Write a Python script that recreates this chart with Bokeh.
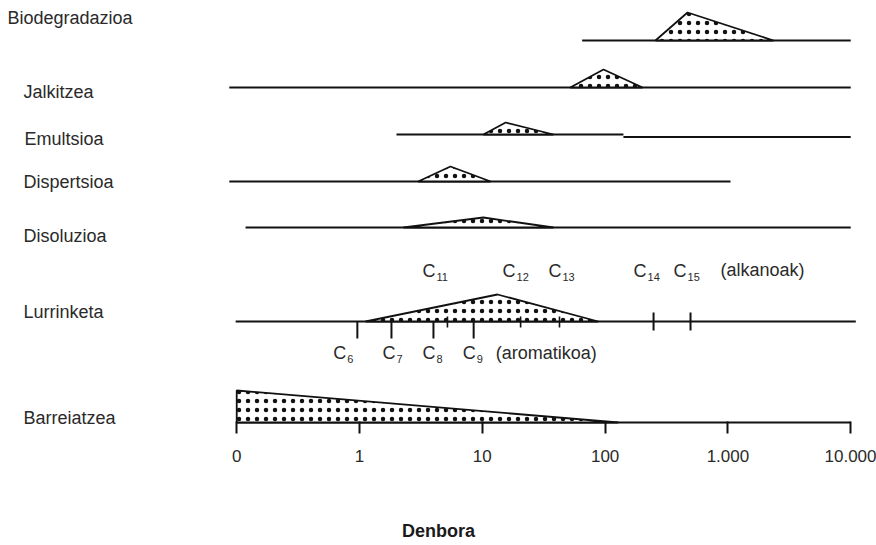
from bokeh.plotting import figure
from bokeh.models import Range1d, FixedTicker, Label, ColumnDataSource
from bokeh.embed import file_html
from bokeh.resources import INLINE
from bokeh.core.properties import value

# ---------------- data (time in hours, log scale; "0" drawn at 0.1) ----------------
processes = ["Biodegradazioa", "Jalkitzea", "Emultsioa", "Dispertsioa",
             "Disoluzioa", "Lurrinketa", "Barreiatzea"]
line_start_h = [65, 0.087, 2.0, 0.087, 0.118, 0.098, 0.1]
line_end_h = [10000, 10000, 141, 1050, 10000, 11000, 10000]
peak_start_h = [257, 52, 10.2, 3.0, 2.28, 1.12, 0.1]
peak_top_h = [469, 97, 15.5, 5.5, 10.2, 13.3, 0.1]
peak_end_h = [2350, 202, 38, 11.7, 38, 88, 128]
peak_size = [28, 18, 12, 15, 10, 27, 32]

emulsion_tail_h = [141, 10000]

alkane_c = ["11", "12", "13", "14", "15"]
alkane_h = [5.2, 20.5, 42.5, 248, 496]
aromatic_c = ["6", "7", "8", "9"]
aromatic_h = [0.96, 1.82, 4.0, 8.5]

tick_h = [0.1, 1, 10, 100, 1000, 10000]
tick_labels = ["0", "1", "10", "100", "1.000", "10.000"]

# ---------------- layout (pixel rows from the top) ----------------
row_base = [40, 87, 134, 181, 227, 321, 422]
label_y = [17, 91, 138, 181, 235, 311, 417]
label_x = [7, 23, 24, 23, 23, 23, 23]
alk_off = [-25, -18, -11, -20, -17]
aro_off = [-24, -9, -11, -11]

FONT = "Liberation Sans"
TXT = "#2a2a2a"

p = figure(width=876, height=545, x_axis_type="log",
           x_range=Range1d(0.001192, 16218), y_range=Range1d(424, 0),
           output_backend="svg", toolbar_location=None,
           y_axis_location=None, min_border_left=0, min_border_right=0,
           min_border_top=0, min_border_bottom=121)
p.outline_line_color = None
p.xgrid.visible = False
p.ygrid.visible = False
p.background_fill_color = "white"

# baselines
p.segment(x0=line_start_h, x1=line_end_h, y0=row_base, y1=row_base,
          line_color="#111111", line_width=2)
p.segment(x0=[emulsion_tail_h[0]], x1=[emulsion_tail_h[1]],
          y0=[row_base[2] + 2.5], y1=[row_base[2] + 2.5],
          line_color="#111111", line_width=2)

# peaks
xs, ys = [], []
for s, t, e, b, h in zip(peak_start_h, peak_top_h, peak_end_h, row_base, peak_size):
    xs.append([s, t, e])
    ys.append([b, b - h, b])
p.patches(xs, ys, fill_color="white", line_color="#111111", line_width=1.8,
          hatch_pattern=".", hatch_color="#111111", hatch_scale=9, hatch_weight=1.5)

# Lurrinketa ticks
lb = row_base[5]
p.segment(x0=aromatic_h, x1=aromatic_h, y0=[lb] * 4, y1=[lb + 17] * 4,
          line_color="#111111", line_width=2)
p.segment(x0=alkane_h[:3], x1=alkane_h[:3], y0=[lb - 5] * 3, y1=[lb + 6] * 3,
          line_color="#111111", line_width=1.6)
p.segment(x0=alkane_h[3:], x1=alkane_h[3:], y0=[lb - 9] * 2, y1=[lb + 9] * 2,
          line_color="#111111", line_width=2)

# carbon labels
def clabels(hs, subs, offs, yc):
    src = ColumnDataSource(dict(x=hs, sub=subs, off=offs,
                                off2=[o + 14 for o in offs], c=["C"] * len(hs)))
    p.text(x="x", y=yc, text="c", x_offset="off", source=src,
           text_font=value(FONT), text_font_size="18px", text_color=TXT,
           text_baseline="middle", text_align="left")
    p.text(x="x", y=yc + 6, text="sub", x_offset="off2", source=src,
           text_font=value(FONT), text_font_size="11px", text_color=TXT,
           text_baseline="middle", text_align="left")

clabels(alkane_h, alkane_c, alk_off, 270)
clabels(aromatic_h, aromatic_c, aro_off, 352)
p.text(x=[alkane_h[-1]], y=[269], text=["(alkanoak)"], x_offset=30,
       text_font=value(FONT), text_font_size="18px", text_color=TXT,
       text_baseline="middle", text_align="left")
p.text(x=[aromatic_h[-1]], y=[352], text=["(aromatikoa)"], x_offset=22,
       text_font=value(FONT), text_font_size="18px", text_color=TXT,
       text_baseline="middle", text_align="left")

# process labels
for name, lx, ly in zip(processes, label_x, label_y):
    p.add_layout(Label(x=lx, x_units="screen", y=ly, y_units="data", text=name,
                       text_font=FONT, text_font_size="18px", text_color=TXT,
                       text_baseline="middle", text_align="left"))

# x axis
ax = p.xaxis[0]
ax.ticker = FixedTicker(ticks=tick_h, minor_ticks=[])
ax.major_label_overrides = {t: l for t, l in zip(tick_h, tick_labels)}
ax.axis_line_color = None
ax.major_tick_in = 3
ax.major_tick_out = 9
ax.major_tick_line_width = 2
ax.major_tick_line_color = "#111111"
ax.minor_tick_line_color = None
ax.major_label_text_font = FONT
ax.major_label_text_font_size = "17px"
ax.major_label_text_color = TXT
ax.major_label_standoff = 16
ax.axis_label = "Denbora"
ax.axis_label_text_font = FONT
ax.axis_label_text_font_size = "18px"
ax.axis_label_text_font_style = "bold"
ax.axis_label_text_color = "#1a1a1a"
ax.axis_label_standoff = 56

open("out.html", "w").write(file_html(p, INLINE))
